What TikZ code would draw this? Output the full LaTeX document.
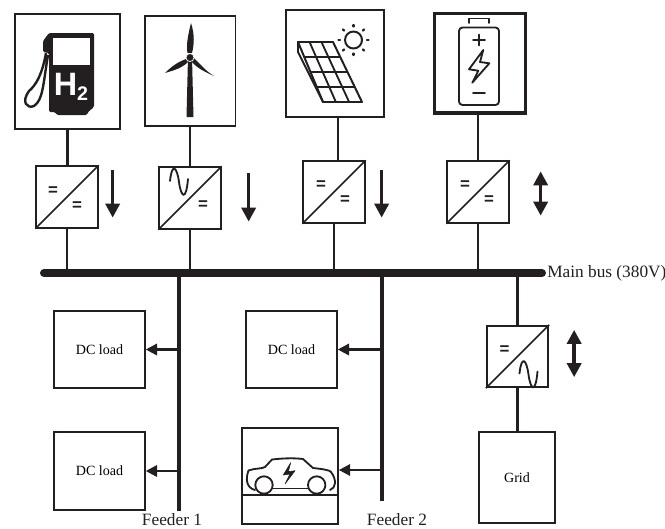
\documentclass[tikz,border=0pt]{standalone}
\usepackage{fontspec}
\setmainfont{Liberation Serif}
\newfontfamily\iconfont{Liberation Sans}
\usepackage{xcolor}
\usetikzlibrary{arrows.meta, calc}
\definecolor{InkBlack}{RGB}{35,31,32}
\tikzset{
    iconbox/.style={
        draw=InkBlack, fill=white, inner sep=0pt, anchor=north west
    },
    convbox/.style={
        draw=InkBlack, line width=1.2pt, fill=white, minimum size=1.54cm, inner sep=0pt
    },
    loadbox/.style={
        draw=InkBlack, line width=1.2pt, fill=white, inner sep=0pt,
        font=\fontsize{10}{12}\selectfont
    },
    wire/.style={
        InkBlack, line width=1.8pt
    },
    feederline/.style={
        InkBlack, line width=2.8pt
    },
    loadptr/.style={
        InkBlack, line width=1.7pt, -{Triangle[length=8pt,width=8pt]}
    },
    flowptr/.style={
        InkBlack, line width=2.6pt, -{Triangle[length=10pt,width=10pt]}
    },
    flowboth/.style={
        InkBlack, line width=2.6pt, {Triangle[length=10pt,width=10pt]}-{Triangle[length=10pt,width=10pt]}
    },
    eqsign/.style={
        font=\iconfont\bfseries\fontsize{12}{12}\selectfont, text=InkBlack, inner sep=0pt
    },
    caption/.style={
        font=\fontsize{12.3}{14}\selectfont, text=InkBlack, inner sep=0pt
    },
    icon/.style={
        InkBlack, line width=1.3pt, line join=round, line cap=round
    },
    pics/acsine/.style={
        code={
            \draw[InkBlack, line width=1.3pt, line cap=round] (-9,-1) .. controls (-7,-20) and (-2,-15) .. (0,0)
                .. controls (2,15) and (7,20) .. (9,-3);
        }
    }
}
\begin{document}
\begin{tikzpicture}[x=0.025cm, y=-0.025cm]
    \useasboundingbox (0,0) rectangle (665,528);

    % --- sources ---
    \node[iconbox, line width=1.6pt, minimum width=2.63cm, minimum height=2.87cm] (h2box) at (14,13) {};
    \node[iconbox, line width=1.1pt, minimum width=2.27cm, minimum height=2.75cm] (windbox) at (144,15) {};
    \node[iconbox, line width=1.4pt, minimum width=2.45cm, minimum height=2.68cm] (pvbox) at (285,9) {};
    \node[iconbox, line width=2.4pt, minimum width=2.27cm, minimum height=2.48cm] (batbox) at (433,12) {};

    % --- converters ---
    \node[convbox] (conv1) at (67,197) {};
    \node[convbox] (conv2) at (190,198) {};
    \node[convbox] (conv3) at (334,192) {};
    \node[convbox] (conv4) at (478,192) {};
    \node[convbox] (conv5) at (517.5,356.5) {};
    \foreach \nm in {conv1,conv2,conv3,conv4,conv5}
        \draw[InkBlack, line width=1.2pt] (\nm.south west) -- (\nm.north east);

    \node[eqsign] (eq1a) at ($(conv1)+(-14,-6)$) {=};
    \node[eqsign] (eq1b) at ($(conv1)+(10,9)$) {=};
    \node[eqsign] (eq2b) at ($(conv2)+(13,7)$) {=};
    \node[eqsign] (eq3a) at ($(conv3)+(-13,-7)$) {=};
    \node[eqsign] (eq3b) at ($(conv3)+(11,8)$) {=};
    \node[eqsign] (eq4a) at ($(conv4)+(-13,-7)$) {=};
    \node[eqsign] (eq4b) at ($(conv4)+(11,8)$) {=};
    \node[eqsign] (eq5a) at ($(conv5)+(-13,-6)$) {=};
    \pic at ($(conv2)+(-11,-16)$) {acsine};
    \pic at ($(conv5)+(11,18)$) {acsine};

    % --- main bus and feeders ---
    \coordinate (busL) at (44,273);
    \coordinate (busR) at (542,273);
    \coordinate (feeder1) at (179,511);
    \coordinate (feeder2) at (382,501);
    \draw[feederline] (feeder1 |- busL) -- (feeder1);
    \draw[feederline] (feeder2 |- busL) -- (feeder2);

    \draw[wire] (h2box.south) -- (h2box.south |- conv1.north);
    \draw[wire] (conv1.south) -- (conv1 |- busL);
    \draw[wire] (windbox.south -| conv2) -- (conv2.north);
    \draw[wire] (conv2.south) -- (conv2 |- busL);
    \draw[wire] ([xshift=2pt]pvbox.south) -- ([xshift=2pt]pvbox.south |- conv3.north);
    \draw[wire] (conv3.south) -- (conv3 |- busL);
    \draw[wire] (batbox.south -| conv4) -- (conv4.north);
    \draw[wire] (conv4.south) -- (conv4 |- busL);
    \draw[wire] (conv5 |- busL) -- (conv5.north);

    \draw[InkBlack, line width=5.7pt, line cap=round] (busL) -- (busR);
    \node[caption, anchor=west] (buslabel) at ($(busR)+(5,0)$) {Main bus (380V)};

    % --- direction arrows ---
    \draw[flowptr] ([shift={(14,5)}]conv1.north east) -- ([shift={(14,-11)}]conv1.south east);
    \draw[flowptr] ([shift={(27,7)}]conv2.north east) -- ([shift={(27,-8)}]conv2.south east);
    \draw[flowptr] ([shift={(16,10)}]conv3.north east) -- ([shift={(16,-6)}]conv3.south east);
    \draw[flowboth] ([shift={(31,11)}]conv4.north east) -- ([shift={(31,-8)}]conv4.south east);
    \draw[flowboth] ([shift={(25,5)}]conv5.north east) -- ([shift={(25,-11)}]conv5.south east);

    % --- loads ---
    \node[loadbox, minimum width=2.27cm, minimum height=1.93cm] (load1) at (99.5,349.5) {DC load};
    \node[loadbox, minimum width=2.27cm, minimum height=1.95cm] (load2) at (99.5,471) {DC load};
    \node[loadbox, minimum width=2.27cm, minimum height=1.93cm] (load3) at (291.5,349.5) {DC load};
    \node[loadbox, minimum width=2.4cm, minimum height=2.4cm] (evbox) at (290,476) {};
    \node[loadbox, minimum width=1.9cm, minimum height=2.28cm] (gridbox) at (517,477.5) {Grid};

    \draw[loadptr] (load1.east -| feeder1) -- (load1.east);
    \draw[loadptr] (load2.east -| feeder1) -- (load2.east);
    \draw[loadptr] (load3.east -| feeder2) -- (load3.east);
    \draw[loadptr] ([yshift=0.15cm]evbox.east -| feeder2) -- ([yshift=0.15cm]evbox.east);
    \draw[wire] (conv5.south) -- (conv5.south |- gridbox.north);

    \node[caption] (feeder1label) at (172,519.5) {Feeder 1};
    \node[caption] (feeder2label) at (397,519.5) {Feeder 2};

    % --- hydrogen pump ---
    \fill[InkBlack, rounded corners=1pt] (49,33) -- (94,33) -- (94,107) -- (88,112) -- (87,115) -- (57,115)
        -- (55,112) -- (49,112) -- (49,53) -- (43,52) -- (43,41) -- cycle;
    \fill[white] (53,38) rectangle (90,65);
    \draw[InkBlack, line width=1.7pt] (46,53) .. controls (42,75) and (36,85) .. (29,91)
        .. controls (21,102) and (27,109) .. (34,106) .. controls (43,100) and (43,85) .. (48,55);
    \node[text=white, inner sep=0pt, font=\iconfont\bfseries\fontsize{23}{23}\selectfont] (h2text) at (71,87)
        {H\raisebox{-3.5pt}{\fontsize{14}{14}\selectfont 2}};

    % --- wind turbine ---
    \fill[InkBlack] (188,57) -- (192,57) -- (193.5,117) -- (186.5,117) -- cycle;
    \fill[InkBlack] (191,23) .. controls (195,35) and (194,45) .. (192,53) -- (187.5,53) .. controls (186,45) and (188,35) .. (191,23) -- cycle;
    \fill[InkBlack] (165,73) .. controls (172,66) and (178,62) .. (186,59) -- (188,62) .. controls (182,68) and (175,70) .. (165,73) -- cycle;
    \fill[InkBlack] (214,76) .. controls (207,72) and (201,65) .. (194,58) -- (192,62) .. controls (197,68) and (205,72) .. (214,76) -- cycle;
    \draw[white, fill=InkBlack, line width=0.5pt] (190,57.5) circle (4);

    % --- solar panel ---
    \draw[icon, line width=1.4pt] (298,42) -- (333,42) -- (362,102) -- (323,102) -- cycle;
    \draw[icon, line width=1.4pt] (298,42) -- (298,52) -- (323,102);
    \foreach \t in {0.25,0.5,0.75}
        \draw[icon] ($(298,42)!\t!(323,102)$) -- ($(333,42)!\t!(362,102)$);
    \foreach \t in {0.33,0.67}
        \draw[icon] ($(298,42)!\t!(333,42)$) -- ($(323,102)!\t!(362,102)$);
    \draw[icon, line width=1.4pt] (353.5,40) circle (8.5);
    \foreach \a in {0,45,...,315}
        \draw[icon, line width=1.7pt] ($(353.5,40)+(\a:13.5)$) -- ($(353.5,40)+(\a:15)$);

    % --- battery ---
    \draw[icon, rounded corners=2.5pt] (459,27.5) rectangle (499,105);
    \draw[icon] (469,23) -- (469,18.5) -- (489,18.5) -- (489,23);
    \draw[icon] (473,40) -- (485,40) (479,34.5) -- (479,45.5);
    \draw[icon] (473,93) -- (485,93);
    \draw[icon] (483.3,50) -- (469,69.3) -- (478.3,70.7) -- (472.3,82.7) -- (489.3,63.3) -- (480,62) -- cycle;

    % --- electric car ---
    \draw[InkBlack, line width=1.5pt] (evbox.west |- 0,494.7) -- (evbox.east |- 0,494.7);
    \draw[icon] (255,490) .. controls (247,488) and (245,480) .. (248.5,470.5) .. controls (255,468) and (262,469) .. (265,467)
        -- (272,459.5) .. controls (285,458) and (295,458) .. (303,459) -- (313,468) .. controls (322,469) and (330,470) .. (331,472)
        .. controls (337,480) and (336,488) .. (330,490);
    \draw[icon] (273,488.5) -- (308,488.5);
    \draw[icon, fill=white] (264,485) circle (8.7);
    \draw[icon, fill=white] (316.7,485) circle (8.7);
    \draw[icon, fill=InkBlack, line width=0.4pt] (290.7,462.7) -- (283.3,475) -- (290,474) -- (285,484) -- (295,470.7) -- (288.3,471.7) -- cycle;
\end{tikzpicture}
\end{document}
